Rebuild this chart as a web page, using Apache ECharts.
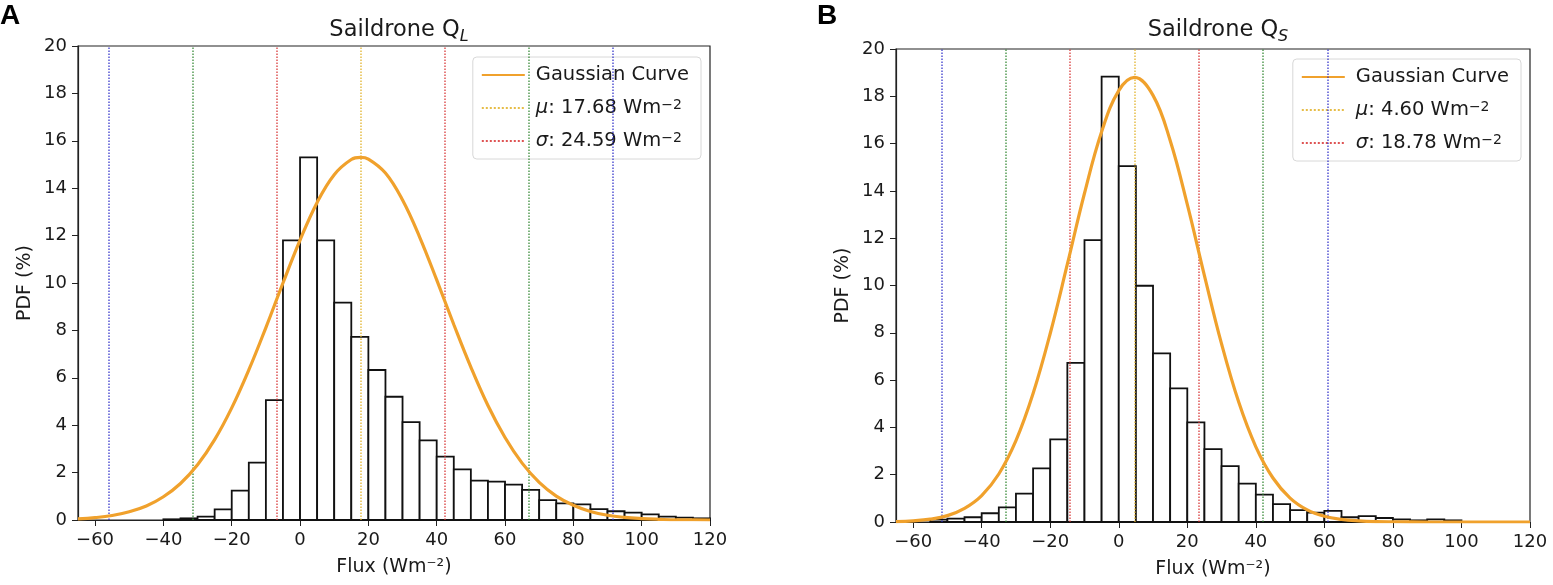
<!DOCTYPE html>
<html>
<head>
<meta charset="utf-8">
<script src="https://cdn.jsdelivr.net/npm/echarts@6/dist/echarts.min.js"></script>
<style>
  html, body { margin: 0; padding: 0; background: #fff; }
  #chart { width: 1553px; height: 585px; }
</style>
</head>
<body>
<div id="chart"></div>
<script>
// ---- data ----
var binWidth = 5;
var xTicks = [-60, -40, -20, 0, 20, 40, 60, 80, 100, 120];

// panel A : Saildrone Q_L
var edgesA = [-40, -35, -30, -25, -20, -15, -10, -5, 0, 5, 10, 15, 20, 25, 30, 35, 40, 45, 50, 55, 60, 65, 70, 75, 80, 85, 90, 95, 100, 105, 110, 115];
var histA  = [0.03, 0.07, 0.14, 0.45, 1.24, 2.42, 5.06, 11.8, 15.3, 11.8, 9.17, 7.73, 6.33, 5.2, 4.13, 3.36, 2.67, 2.14, 1.66, 1.62, 1.49, 1.27, 0.84, 0.70, 0.66, 0.46, 0.37, 0.31, 0.24, 0.14, 0.10, 0.07];
var curveXA = [-65, -60, -55, -50, -45, -40, -35, -30, -25, -20, -15, -10, -5, 0, 5, 10, 15, 17.68, 20, 25, 30, 35, 40, 45, 50, 55, 60, 65, 70, 75, 80, 85, 90, 95, 100, 105, 110, 115, 120];
var curveYA = [0.05, 0.10, 0.19, 0.35, 0.59, 0.98, 1.54, 2.33, 3.39, 4.73, 6.33, 8.12, 10.0, 11.81, 13.4, 14.57, 15.21, 15.3, 15.23, 14.64, 13.5, 11.94, 10.13, 8.25, 6.45, 4.83, 3.48, 2.4, 1.59, 1.01, 0.62, 0.36, 0.2, 0.11, 0.06, 0.03, 0.01, 0.01, 0.0];
var muA = 17.68, sigmaA = 24.59;

// panel B : Saildrone Q_S
var edgesB = [-55, -50, -45, -40, -35, -30, -25, -20, -15, -10, -5, 0, 5, 10, 15, 20, 25, 30, 35, 40, 45, 50, 55, 60, 65, 70, 75, 80, 85, 90, 95];
var histB  = [0.1, 0.14, 0.2, 0.37, 0.62, 1.2, 2.27, 3.49, 6.73, 11.92, 18.83, 15.05, 9.99, 7.13, 5.65, 4.21, 3.08, 2.36, 1.62, 1.16, 0.76, 0.5, 0.4, 0.47, 0.2, 0.25, 0.17, 0.11, 0.07, 0.11, 0.07];
var curveXB = [-65, -60, -55, -50, -45, -40, -35, -30, -25, -20, -15, -10, -5, 0, 4.6, 10, 15, 20, 25, 30, 35, 40, 45, 50, 55, 60, 65, 70, 75, 80, 90, 100, 110, 120];
var curveYB = [0.02, 0.05, 0.12, 0.27, 0.58, 1.12, 2.03, 3.44, 5.43, 7.97, 10.9, 13.9, 16.5, 18.24, 18.8, 18.04, 16.13, 13.43, 10.42, 7.53, 5.07, 3.18, 1.86, 1.01, 0.51, 0.24, 0.11, 0.05, 0.02, 0.01, 0.0, 0.0, 0.0, 0.0];
var muB = 4.60, sigmaB = 18.78;

var FONT = 'DejaVu Sans';
var ORANGE = '#f0a12c';
var MUCOL = 'rgba(226,178,40,0.85)';
var REDCOL = 'rgba(214,40,40,0.8)';
var GREENCOL = 'rgba(40,130,40,0.8)';
var BLUECOL = 'rgba(40,40,200,0.8)';

function pairs(xs, ys) {
  var out = [];
  for (var i = 0; i < xs.length; i++) out.push([xs[i], ys[i]]);
  return out;
}
function bins(edges, h) {
  var out = [];
  for (var i = 0; i < edges.length; i++) out.push([edges[i], edges[i] + binWidth, h[i]]);
  return out;
}
function renderBar(params, api) {
  var p0 = api.coord([api.value(0), api.value(2)]);
  var p1 = api.coord([api.value(1), 0]);
  return {
    type: 'rect',
    shape: { x: p0[0], y: p0[1], width: p1[0] - p0[0], height: p1[1] - p0[1] },
    style: { fill: '#fff', stroke: '#111', lineWidth: 1.8 }
  };
}
function vline(name, idx, values, color) {
  return {
    name: name,
    type: 'line',
    xAxisIndex: idx, yAxisIndex: idx,
    data: [],
    symbol: 'none',
    z: 4,
    lineStyle: { color: color, type: 'dotted', width: 1.5 },
    itemStyle: { color: color },
    markLine: {
      silent: true,
      symbol: ['none', 'none'],
      label: { show: false },
      lineStyle: { color: color, type: 'dotted', width: 1.5 },
      data: values.map(function (v) { return { xAxis: v }; })
    }
  };
}
function xAx(idx) {
  return {
    type: 'value', gridIndex: idx, min: -65, max: 120,
    name: 'Flux (Wm\u207B\u00B2)', nameLocation: 'middle', nameGap: 38,
    nameTextStyle: { fontFamily: FONT, fontSize: 19, color: '#1a1a1a' },
    axisLine: { show: true, onZero: false, lineStyle: { color: '#222', width: 1.2 } },
    axisTick: { show: true, length: 6, customValues: xTicks, lineStyle: { color: '#222' } },
    axisLabel: { customValues: xTicks, margin: 11, fontFamily: FONT, fontSize: 18, color: '#1a1a1a',
      formatter: function (v) { return String(v).replace('-', '\u2212'); } },
    splitLine: { show: false }
  };
}
function yAx(idx) {
  return {
    type: 'value', gridIndex: idx, min: 0, max: 20, interval: 2,
    name: 'PDF (%)', nameLocation: 'middle', nameGap: 43,
    nameTextStyle: { fontFamily: FONT, fontSize: 19, color: '#1a1a1a' },
    axisLine: { show: true, onZero: false, lineStyle: { color: '#222', width: 1.2 } },
    axisTick: { show: true, length: 6, lineStyle: { color: '#222' } },
    axisLabel: { margin: 11, fontFamily: FONT, fontSize: 18, color: '#1a1a1a' },
    splitLine: { show: false }
  };
}
var legendLabels = {
  'Gaussian Curve': 'Gaussian Curve',
  'muA': '{i|\u03BC}: ' + muA.toFixed(2) + ' Wm{s|\u22122}',
  'sigA': '{i|\u03C3}: ' + sigmaA.toFixed(2) + ' Wm{s|\u22122}',
  'muB': '{i|\u03BC}: ' + muB.toFixed(2) + ' Wm{s|\u22122}',
  'sigB': '{i|\u03C3}: ' + sigmaB.toFixed(2) + ' Wm{s|\u22122}'
};
function legend(names, right, top) {
  return {
    data: names, orient: 'vertical', right: right, top: top,
    itemWidth: 43, itemHeight: 14, itemGap: 13,
    padding: [8, 12, 8, 8],
    borderColor: '#d8d8d8', borderWidth: 1, borderRadius: 4, backgroundColor: '#fff',
    selectedMode: false,
    itemStyle: { opacity: 0 },
    formatter: function (n) { return legendLabels[n]; },
    textStyle: {
      fontFamily: FONT, fontSize: 19.5, color: '#1a1a1a', padding: [0, 0, 0, 6],
      rich: {
        i: { fontFamily: FONT, fontSize: 19.5, fontStyle: 'italic', color: '#1a1a1a' },
        s: { fontFamily: FONT, fontSize: 14, color: '#1a1a1a', verticalAlign: 'top', lineHeight: 10 }
      }
    }
  };
}
function title(sub, left) {
  return {
    text: '{a|Saildrone Q}{b|' + sub + '}', left: left, top: 11, textAlign: 'center',
    textStyle: {
      fontWeight: 'normal',
      rich: {
        a: { fontFamily: FONT, fontSize: 22.5, fontWeight: 'normal', color: '#1a1a1a', lineHeight: 29 },
        b: { fontFamily: FONT, fontSize: 16, fontWeight: 'normal', fontStyle: 'italic', color: '#1a1a1a', lineHeight: 15, verticalAlign: 'bottom' }
      }
    }
  };
}

var chart = echarts.init(document.getElementById('chart'));
var option = {
  animation: false,
  backgroundColor: '#fff',
  title: [title('L', 394), title('S', 1213)],
  grid: [
    { left: 78, right: 843, top: 46, bottom: 65, show: true, borderColor: '#222', borderWidth: 1.2 },
    { left: 896, right: 23, top: 49, bottom: 63, show: true, borderColor: '#222', borderWidth: 1.2 }
  ],
  xAxis: [xAx(0), xAx(1)],
  yAxis: [yAx(0), yAx(1)],
  legend: [legend(['Gaussian Curve', 'muA', 'sigA'], 852, 57), legend(['Gaussian Curve', 'muB', 'sigB'], 32, 59)],
  graphic: [
    { type: 'text', left: 0, top: 2, style: { text: 'A', fontFamily: 'Liberation Sans', fontWeight: 'bold', fontSize: 28, fill: '#000' } },
    { type: 'text', left: 817, top: 2, style: { text: 'B', fontFamily: 'Liberation Sans', fontWeight: 'bold', fontSize: 28, fill: '#000' } }
  ],
  series: [
    { type: 'custom', xAxisIndex: 0, yAxisIndex: 0, renderItem: renderBar, data: bins(edgesA, histA), z: 2, silent: true },
    { type: 'custom', xAxisIndex: 1, yAxisIndex: 1, renderItem: renderBar, data: bins(edgesB, histB), z: 2, silent: true },
    { name: 'Gaussian Curve', type: 'line', xAxisIndex: 0, yAxisIndex: 0, data: pairs(curveXA, curveYA),
      smooth: 0.4, symbol: 'none', z: 5, lineStyle: { color: ORANGE, width: 3.2 }, itemStyle: { color: ORANGE } },
    { name: 'Gaussian Curve', type: 'line', xAxisIndex: 1, yAxisIndex: 1, data: pairs(curveXB, curveYB),
      smooth: 0.4, symbol: 'none', z: 5, lineStyle: { color: ORANGE, width: 3.2 }, itemStyle: { color: ORANGE } },
    vline('muA', 0, [muA], MUCOL),
    vline('sigA', 0, [muA - sigmaA, muA + sigmaA], REDCOL),
    vline('greenA', 0, [muA - 2 * sigmaA, muA + 2 * sigmaA], GREENCOL),
    vline('blueA', 0, [muA - 3 * sigmaA, muA + 3 * sigmaA], BLUECOL),
    vline('muB', 1, [muB], MUCOL),
    vline('sigB', 1, [muB - sigmaB, muB + sigmaB], REDCOL),
    vline('greenB', 1, [muB - 2 * sigmaB, muB + 2 * sigmaB], GREENCOL),
    vline('blueB', 1, [muB - 3 * sigmaB, muB + 3 * sigmaB], BLUECOL)
  ]
};
chart.setOption(option);
</script>
</body>
</html>
